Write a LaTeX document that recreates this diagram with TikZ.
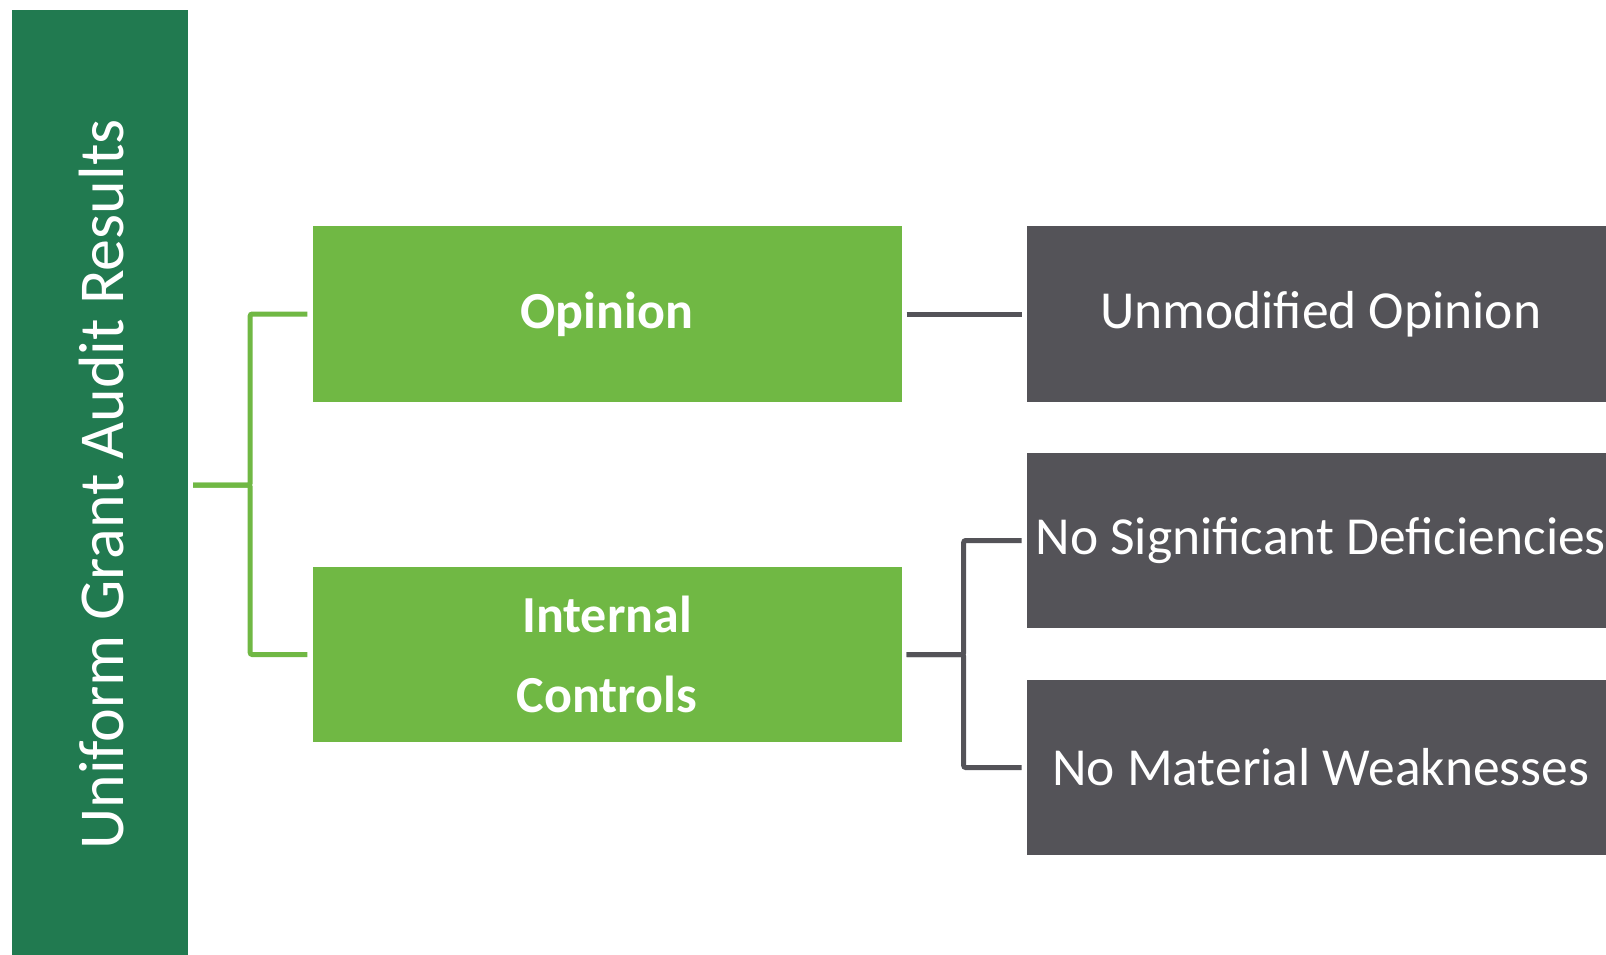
\documentclass[tikz,border=0pt]{standalone}
\usepackage{fontspec}
\setmainfont{Carlito}
\definecolor{dkgreen}{RGB}{33,122,80}
\definecolor{ltgreen}{RGB}{112,184,68}
\definecolor{slate}{RGB}{84,83,88}
\begin{document}
\begin{tikzpicture}[x=1pt,y=-1pt,
  base/.style={rectangle,inner sep=0pt,text=white,align=center},
  gbox/.style={base,fill=ltgreen,minimum width=589pt,minimum height=175.7pt,font=\fontsize{52}{80}\selectfont\bfseries},
  dbox/.style={base,fill=slate,minimum width=588pt,minimum height=175.7pt,font=\fontsize{53.5}{60}\selectfont},
  gline/.style={draw=ltgreen,line width=5pt,rounded corners=2pt},
  dline/.style={draw=slate,line width=5pt,rounded corners=2pt},
  gap/.style={shorten <=5pt,shorten >=5pt}]
\useasboundingbox (0,0) rectangle (1606,954);
\fill[white] (0,0) rectangle (1606,954);
\node[base,fill=dkgreen,minimum width=176pt,minimum height=950pt] (bar) at (100,485) {};
\node[text=white,rotate=90,font=\fontsize{64}{66}\selectfont,inner sep=0pt] (title) at (102,484.5) {Uniform Grant Audit Results};
\node[gbox] (op) at (607,314) {Opinion};
\node[gbox] (ic) at (607,654.5) {Internal\\Controls};
\node[dbox] (uo) at (1320.7,314) {Unmodified Opinion};
\node[dbox] (sd) at (1320.7,540.5) {No Significant Deficiencies};
\node[dbox] (mw) at (1320.7,767.5) {No Material Weaknesses};
\draw[gline,gap] (bar.east) -- ++(62,0) |- (op.west);
\draw[gline,gap] (bar.east) -- ++(62,0) |- (ic.west);
\draw[dline,gap] (op.east) -- (uo.west);
\draw[dline,gap] (ic.east) -- ++(62,0) |- (sd.west);
\draw[dline,gap] (ic.east) -- ++(62,0) |- (mw.west);
\end{tikzpicture}
\end{document}
